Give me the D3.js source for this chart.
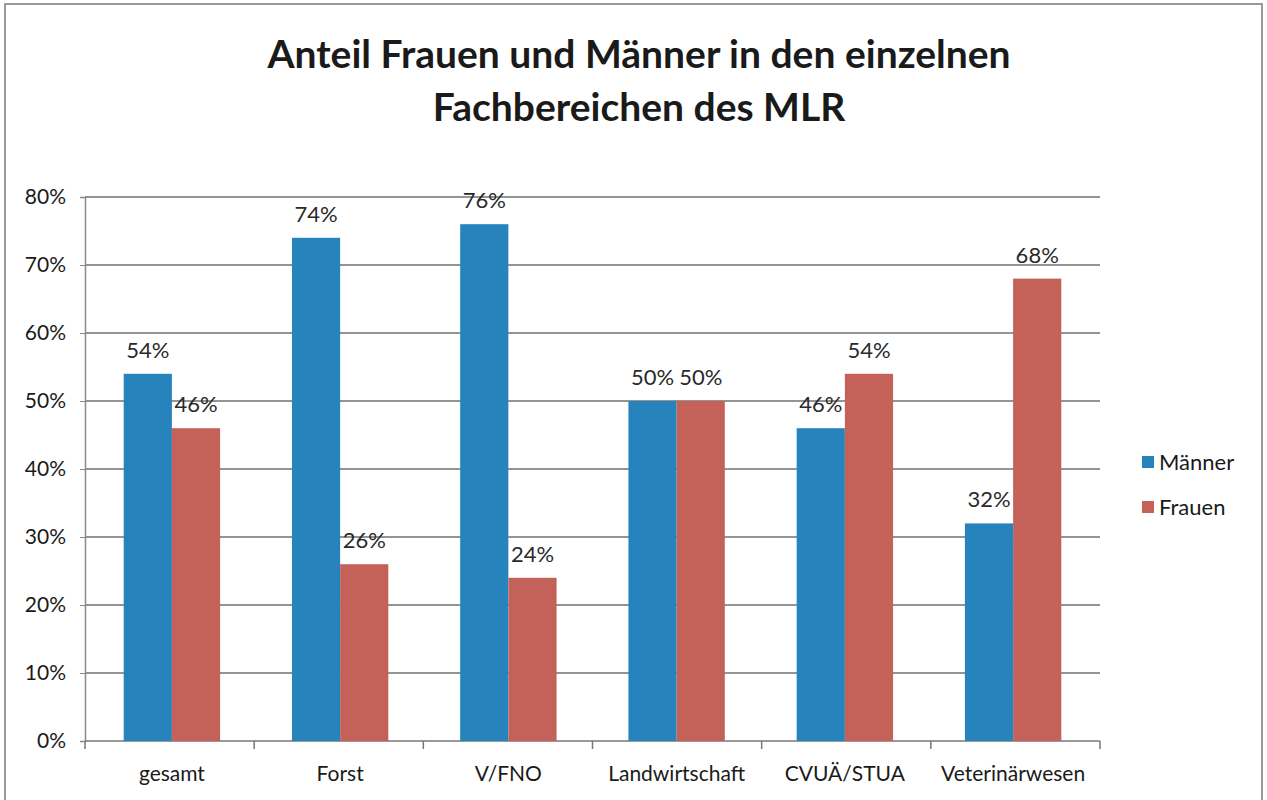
<!DOCTYPE html>
<html>
<head>
<meta charset="utf-8">
<script src="https://cdn.jsdelivr.net/npm/d3@7"></script>
<style>
  body { margin: 0; background: #fff; }
  text { font-family: Lato, "Open Sans", sans-serif; }
</style>
</head>
<body>
<div id="graph"></div>
<script>
// Data
const categories = ["gesamt", "Forst", "V/FNO", "Landwirtschaft", "CVUÄ/STUA", "Veterinärwesen"];
const seriesNames = ["Männer", "Frauen"];
const maenner = [54, 74, 76, 50, 46, 32];
const frauen = [46, 26, 24, 50, 54, 68];
const yTicks = [0, 10, 20, 30, 40, 50, 60, 70, 80];
const colors = ["#2683bb", "#c4625a"];

const W = 1267, H = 800;
const plot = { left: 85, right: 1100, top: 197, bottom: 741 };

const svg = d3.select("#graph")
    .append("svg")
    .attr("width", W)
    .attr("height", H);

// outer frame
svg.append("rect")
    .attr("x", 5).attr("y", 4)
    .attr("width", W - 10).attr("height", H + 10)
    .attr("fill", "none")
    .attr("stroke", "#999")
    .attr("stroke-width", 2);

// Title
const titleLines = ["Anteil Frauen und Männer in den einzelnen", "Fachbereichen des MLR"];
svg.selectAll(".title")
    .data(titleLines)
    .join("text")
    .attr("x", 639).attr("y", (d, i) => 68 + i * 53)
    .attr("text-anchor", "middle")
    .style("font-size", "39px").style("font-weight", "bold")
    .attr("fill", "#1a1a1a")
    .text(d => d);

// Scales
const x0 = d3.scaleBand()
    .domain(categories)
    .range([plot.left, plot.right])
    .paddingInner(0.427)
    .paddingOuter(0.23);
const x1 = d3.scaleBand()
    .domain(seriesNames)
    .range([0, x0.bandwidth()]);
const y = d3.scaleLinear()
    .domain([0, 80])
    .range([plot.bottom, plot.top]);

// Gridlines
svg.append("g")
    .selectAll("line")
    .data(yTicks.filter(d => d > 0))
    .join("line")
    .attr("x1", plot.left).attr("x2", plot.right)
    .attr("y1", d => y(d)).attr("y2", d => y(d))
    .attr("stroke", "#707070")
    .attr("stroke-width", 1.7);

// Y axis
const yAxis = svg.append("g")
    .attr("transform", `translate(${plot.left},0)`)
    .call(d3.axisLeft(y).tickValues(yTicks).tickFormat(d => d + "%").tickSize(5).tickPadding(14));
yAxis.select(".domain").attr("stroke", "#888").attr("stroke-width", 1.5);
yAxis.selectAll(".tick line").attr("stroke", "#888");
yAxis.selectAll("text").style("font-size", "21px").attr("fill", "#1a1a1a");

// X axis with ticks between categories
const xAxisG = svg.append("g")
    .attr("transform", `translate(0,${plot.bottom})`);
xAxisG.append("line")
    .attr("x1", plot.left).attr("x2", plot.right)
    .attr("stroke", "#777").attr("stroke-width", 1.5);
const boundaries = d3.range(categories.length + 1).map(i => plot.left + i * (plot.right - plot.left) / categories.length);
xAxisG.selectAll(".sep")
    .data(boundaries)
    .join("line")
    .attr("x1", d => d).attr("x2", d => d)
    .attr("y1", 0).attr("y2", 8)
    .attr("stroke", "#777").attr("stroke-width", 1.5);
xAxisG.selectAll(".lbl")
    .data(categories)
    .join("text")
    .attr("x", d => x0(d) + x0.bandwidth() / 2)
    .attr("y", 40)
    .attr("text-anchor", "middle")
    .style("font-size", "21px")
    .attr("fill", "#1a1a1a")
    .text(d => d);

// Bars
const rows = categories.map((c, i) => ({ cat: c, vals: [maenner[i], frauen[i]] }));
const groups = svg.append("g")
    .selectAll("g")
    .data(rows)
    .join("g")
    .attr("transform", d => `translate(${x0(d.cat)},0)`);
groups.selectAll("rect")
    .data(d => d.vals.map((v, j) => ({ key: seriesNames[j], v, j })))
    .join("rect")
    .attr("x", d => x1(d.key))
    .attr("y", d => y(d.v))
    .attr("width", x1.bandwidth())
    .attr("height", d => y(0) - y(d.v))
    .attr("fill", d => colors[d.j]);
groups.selectAll("text")
    .data(d => d.vals.map((v, j) => ({ key: seriesNames[j], v, j })))
    .join("text")
    .attr("x", d => x1(d.key) + x1.bandwidth() / 2)
    .attr("y", d => y(d.v) - 16)
    .attr("text-anchor", "middle")
    .style("font-size", "22px")
    .attr("fill", "#2a2a2a")
    .text(d => d.v + "%");

// Legend
const legend = svg.append("g")
    .attr("transform", "translate(1142,462)");
legend.selectAll("rect")
    .data(seriesNames)
    .join("rect")
    .attr("x", 0).attr("y", (d, i) => i * 45 - 6)
    .attr("width", 12).attr("height", 12)
    .attr("fill", (d, i) => colors[i]);
legend.selectAll("text")
    .data(seriesNames)
    .join("text")
    .attr("x", 17).attr("y", (d, i) => i * 45 + 8)
    .style("font-size", "22px")
    .attr("fill", "#1a1a1a")
    .text(d => d);
</script>
</body>
</html>
